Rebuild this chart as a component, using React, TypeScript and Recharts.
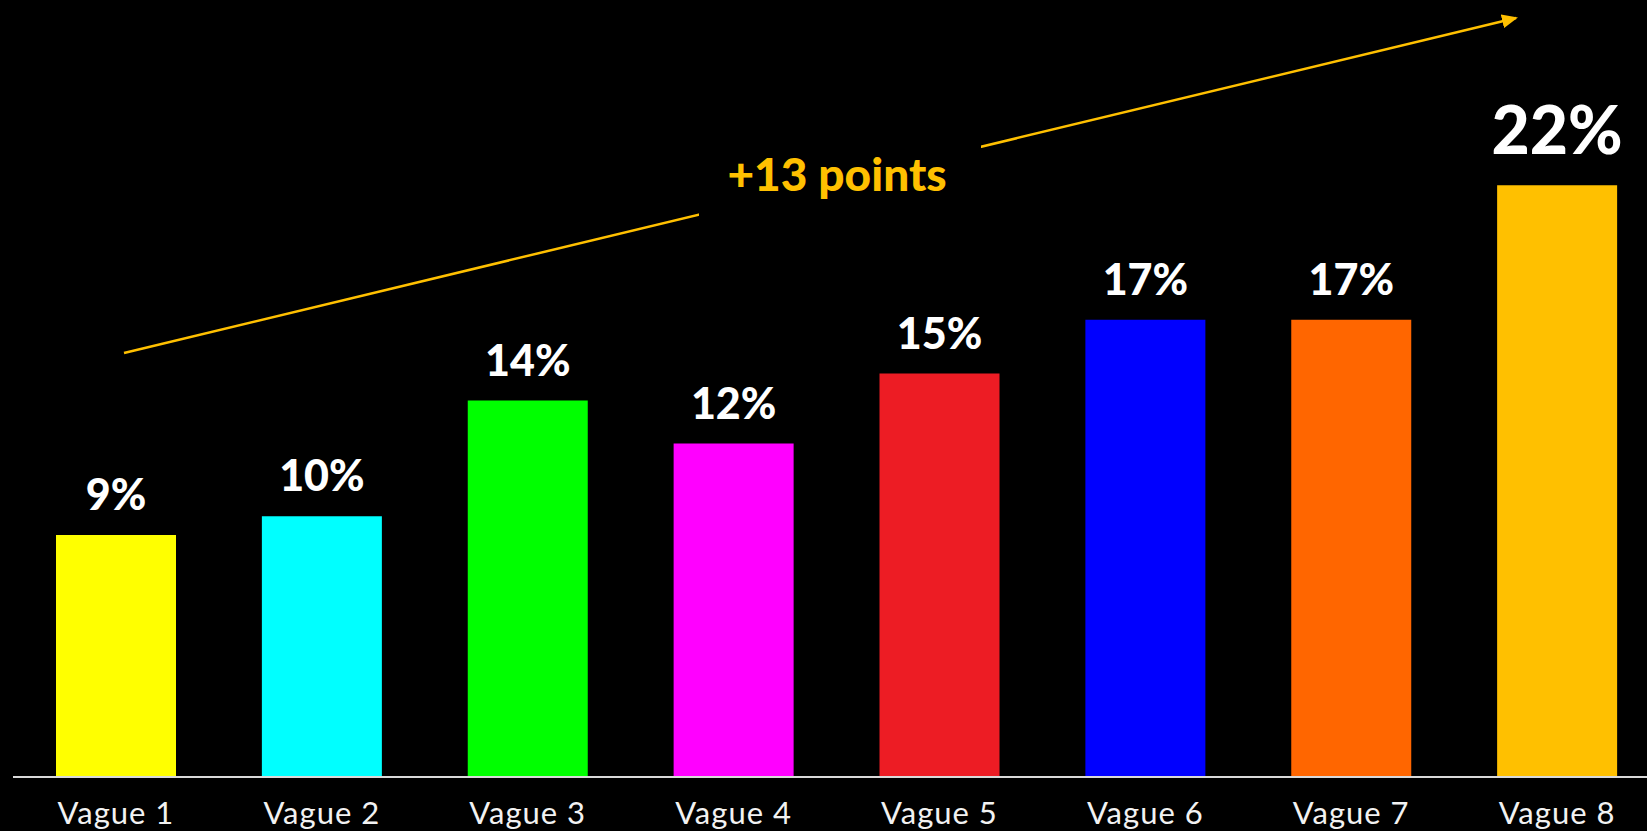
import React from 'react';
import { BarChart, Bar, XAxis, YAxis, Cell, LabelList } from 'recharts';

const categories = ['Vague 1', 'Vague 2', 'Vague 3', 'Vague 4', 'Vague 5', 'Vague 6', 'Vague 7', 'Vague 8'];
const values = [9, 9.7, 14, 12.4, 15, 17, 17, 22];
const valueLabels = ['9%', '10%', '14%', '12%', '15%', '17%', '17%', '22%'];
const barColors = ['#FFFF00', '#00FFFF', '#00FF00', '#FF00FF', '#ED1C24', '#0000FF', '#FF6600', '#FFC000'];
const trendLabel = '+13 points';

const data = categories.map((name, i) => ({ name, value: values[i], label: valueLabels[i] }));

const GOLD = '#FFC000';

// value label above each bar, last one bigger
const renderValueLabel = (props: any) => {
  const { x, y, width, value, index } = props;
  const big = index === values.length - 1;
  return (
    <text
      x={Number(x) + Number(width) / 2}
      y={Number(y) - (big ? 31 : 25)}
      textAnchor="middle"
      fill="#ffffff"
      fontFamily="Lato, sans-serif"
      fontWeight={900}
      fontSize={big ? 66 : 43}
    >
      {value}
    </text>
  );
};

const App: React.FC = () => {
  return (
    <div
      style={{
        position: 'absolute',
        left: 0,
        top: 0,
        width: 1647,
        height: 831,
        overflow: 'hidden',
        background: '#000',
      }}
    >
      <BarChart
        width={1670}
        height={831}
        data={data}
        margin={{ top: 24, right: 10, left: 13, bottom: 24 }}
      >
        <XAxis
          dataKey="name"
          height={30}
          axisLine={{ stroke: '#d9d9d9', strokeWidth: 2 }}
          tickLine={false}
          tickMargin={19}
          interval={0}
          tick={{ fill: '#f2f2f2', fontSize: 31, fontFamily: 'Lato, sans-serif', letterSpacing: 1 }}
        />
        <YAxis hide domain={[0, 28]} />
        <Bar dataKey="value" barSize={120} isAnimationActive={false}>
          {data.map((d, i) => (
            <Cell key={d.name} fill={barColors[i]} />
          ))}
          <LabelList dataKey="label" content={renderValueLabel} />
        </Bar>
      </BarChart>

      {/* trend arrow annotation */}
      <svg
        width={1647}
        height={831}
        style={{ position: 'absolute', left: 0, top: 0, pointerEvents: 'none' }}
      >
        <defs>
          <marker id="arrowHead" markerWidth="16" markerHeight="14" refX="14" refY="7" orient="auto" markerUnits="userSpaceOnUse">
            <path d="M0,0 L16,7 L0,14 Z" fill={GOLD} />
          </marker>
        </defs>
        <line x1={124} y1={353} x2={1516} y2={18} stroke={GOLD} strokeWidth={2.5} markerEnd="url(#arrowHead)" />
        <rect x={699} y={130} width={282} height={100} fill="#000" />
        <text
          x={837}
          y={191}
          textAnchor="middle"
          fill={GOLD}
          fontFamily="Lato, sans-serif"
          fontWeight={900}
          fontSize={46}
        >
          {trendLabel}
        </text>
      </svg>
    </div>
  );
};

export default App;
